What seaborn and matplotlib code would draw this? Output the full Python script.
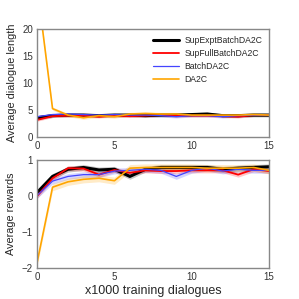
import numpy as np
import pandas as pd
import matplotlib
matplotlib.use("Agg")
import matplotlib.pyplot as plt
import seaborn as sns

steps = list(range(16))
methods = ['SupExptBatchDA2C', 'SupFullBatchDA2C', 'BatchDA2C', 'DA2C']
colors = ['black', 'red', '#4444ff', 'orange']
widths = [2.2, 1.3, 0.9, 1.2]

# average dialogue length per method
len_expt = [3.5, 3.9, 4.0, 4.0, 3.9, 4.0, 4.0, 3.9, 4.0, 4.0, 4.1, 4.2, 3.9, 3.9, 4.0, 4.0]
len_full = [3.1, 3.8, 3.9, 3.9, 3.7, 3.9, 3.8, 3.9, 4.0, 3.9, 3.9, 3.9, 3.8, 3.7, 4.0, 4.0]
len_batch = [3.7, 4.1, 4.2, 4.1, 4.0, 4.1, 4.0, 4.0, 3.9, 3.7, 3.9, 3.9, 3.7, 3.9, 4.0, 4.0]
len_da2c = [28.0, 5.2, 4.0, 3.5, 3.9, 3.7, 4.2, 4.3, 4.2, 4.2, 4.0, 4.0, 4.0, 4.0, 4.1, 4.0]
len_band = [0.35, 0.25, 0.25, 0.3]

# average rewards per method
rew_expt = [0.1, 0.55, 0.75, 0.8, 0.73, 0.75, 0.55, 0.75, 0.8, 0.8, 0.8, 0.8, 0.75, 0.78, 0.8, 0.82]
rew_full = [0.0, 0.5, 0.78, 0.77, 0.6, 0.73, 0.65, 0.72, 0.7, 0.7, 0.72, 0.72, 0.72, 0.6, 0.75, 0.7]
rew_batch = [0.02, 0.42, 0.55, 0.6, 0.6, 0.7, 0.72, 0.75, 0.72, 0.55, 0.72, 0.78, 0.7, 0.75, 0.72, 0.72]
rew_da2c = [-1.85, 0.25, 0.4, 0.47, 0.5, 0.43, 0.78, 0.8, 0.8, 0.8, 0.8, 0.78, 0.78, 0.78, 0.8, 0.72]
rew_band = [0.08, 0.07, 0.08, 0.1]

sns.set_style('white')
plt.rcParams['font.family'] = ['Liberation Sans', 'DejaVu Sans']

fig, (ax1, ax2) = plt.subplots(2, 1, figsize=(2.99, 2.99), dpi=100)
fig.subplots_adjust(left=0.124, right=0.9, top=0.903, bottom=0.104, hspace=0.22)

len_series = [len_expt, len_full, len_batch, len_da2c]
rew_series = [rew_expt, rew_full, rew_batch, rew_da2c]

for ax, series, bands in [(ax1, len_series, len_band), (ax2, rew_series, rew_band)]:
    for name, vals, band, c, lw in zip(methods, series, bands, colors, widths):
        df = pd.DataFrame({'step': steps, 'value': vals})
        sns.lineplot(data=df, x='step', y='value', color=c, linewidth=lw,
                     label=name, ax=ax, legend=False)
        v = np.array(vals)
        ax.fill_between(steps, v - band, v + band, color=c, alpha=0.22, linewidth=0)
    ax.set_xlim(0, 15)
    ax.set_xticks([0, 5, 10, 15])
    ax.tick_params(labelsize=7, colors='#333333', length=0, pad=3)
    for s in ax.spines.values():
        s.set_color('#888888')
        s.set_linewidth(1.0)

ax1.set_ylim(0, 20)
ax1.set_yticks([0, 5, 10, 15, 20])
ax1.set_xlabel('')
ax1.set_ylabel('Average dialogue length', fontsize=7.8)
ax1.legend(loc='upper right', frameon=False, fontsize=6.2, handlelength=3.0,
           labelspacing=0.45, borderaxespad=0.4, handletextpad=0.6)

ax2.set_ylim(-2, 1)
ax2.set_yticks([-2, -1, 0, 1])
ax2.set_ylabel('Average rewards', fontsize=7.8)
ax2.set_xlabel('x1000 training dialogues', fontsize=9, labelpad=2)

fig.savefig('out.png', dpi=100)
plt.close()
